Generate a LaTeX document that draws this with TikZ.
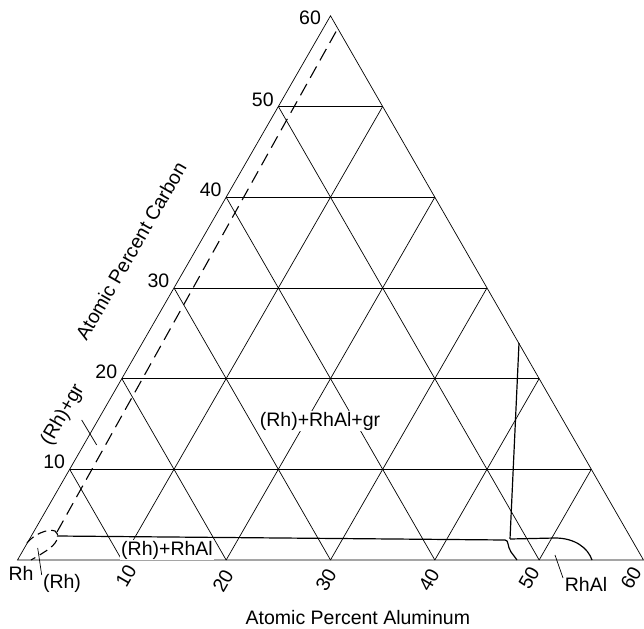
\documentclass[tikz,border=0pt]{standalone}
\usepackage{fontspec}
\setmainfont{Liberation Sans}
\begin{document}
\begin{tikzpicture}[x=1pt,y=-1pt,
  gridline/.style={line width=0.7pt, black},
  phase/.style={line width=1.2pt, black},
  dashb/.style={line width=1.1pt, dash pattern=on 13pt off 7pt},
  dashe/.style={line width=1.1pt, dash pattern=on 9pt off 5pt},
  leader/.style={line width=0.7pt, black},
  lbl/.style={font=\fontsize{19.5}{22}\selectfont, inner sep=0.5pt},
  tick/.style={lbl, rotate=60},
  region/.style={lbl, fill=white, inner sep=1pt}]
\useasboundingbox (0,0) rectangle (644,628);
\begin{scope}[shift={(17.5,560)}, x={(10.433pt,0pt)}, y={(5.2165pt,9.07pt)}]
  \coordinate (Rh) at (0,0);
  \coordinate (A60) at (60,0);
  \coordinate (C60) at (0,60);
  \foreach \i in {10,20,...,50} {
    \coordinate (a\i) at (\i,0);
    \coordinate (c\i) at (0,\i);
    \draw[gridline] (a\i) -- (\i,{60-\i});
    \draw[gridline] (a\i) -- (c\i);
    \draw[gridline] (c\i) -- ({60-\i},\i);
  }
  \draw[gridline] (Rh) -- (A60) -- (C60) -- cycle;
\end{scope}
% left axis labels
\foreach \i in {10,20,...,50} {
  \node[lbl, anchor=south east] (lc\i) at ([xshift=-4pt,yshift=-0.5pt]c\i) {\i};
}
\node[lbl] (lc60) at (310,17.5) {60};
% bottom labels
\node[tick] (la10) at (126,576) {10};
\node[tick] (la20) at (223,581) {20};
\node[tick] (la30) at (326,580) {30};
\node[tick] (la40) at (429,580) {40};
\node[tick] (la50) at (529,578) {50};
\node[tick] (la60) at (631,578) {60};
% axis titles
\node[lbl, rotate=60] (tC) at (131,251) {Atomic Percent Carbon};
\node[lbl, anchor=base west] (tA) at (245,624) {Atomic Percent Aluminum};
% phase boundaries
\coordinate (d0) at (57,532);
\coordinate (d1) at (338,28);
\draw[dashb] (d0) -- (d1);
\draw[dashe] (27,543) .. controls (33,535) and (48,528) .. (55,531)
  .. controls (60,534) and (58,542) .. (50,548)
  .. controls (45,552) and (38,556) .. (31,560);
\coordinate (h0) at (57,536);
\coordinate (h1) at (505,540);
\coordinate (k1) at (517,560);
\draw[phase] (h0) -- (h1) .. controls (509,540) and (507,546) .. (511,552) -- (k1);
\coordinate (v0) at (519,343);
\coordinate (v1) at (510,539);
\draw[phase] (v0) -- (v1);
\coordinate (r1) at (555,538);
\coordinate (r2) at (592,560);
\draw[phase] (v1) -- (r1) .. controls (575,538) and (588,548) .. (r2);
% region labels
\node[region] (l1) at (320,421) {(Rh)+RhAl+gr};
\node[region] (l2) at (167,550) {(Rh)+RhAl};
\node[lbl, rotate=60] (l3) at (63,415) {(Rh)+gr};
\coordinate (p3a) at (81.7,420);
\coordinate (p3b) at (96.7,445);
\draw[leader] (p3a) -- (p3b);
\node[lbl] (l4) at (21,573) {Rh};
\node[lbl] (l5) at (62,583) {(Rh)};
\coordinate (p5a) at (37.7,548);
\coordinate (p5b) at (41.7,575);
\draw[leader] (p5a) -- (p5b);
\node[lbl] (l6) at (586,584) {RhAl};
\coordinate (p6a) at (555,555);
\coordinate (p6b) at (563,578);
\draw[leader] (p6a) -- (p6b);
\end{tikzpicture}
\end{document}
